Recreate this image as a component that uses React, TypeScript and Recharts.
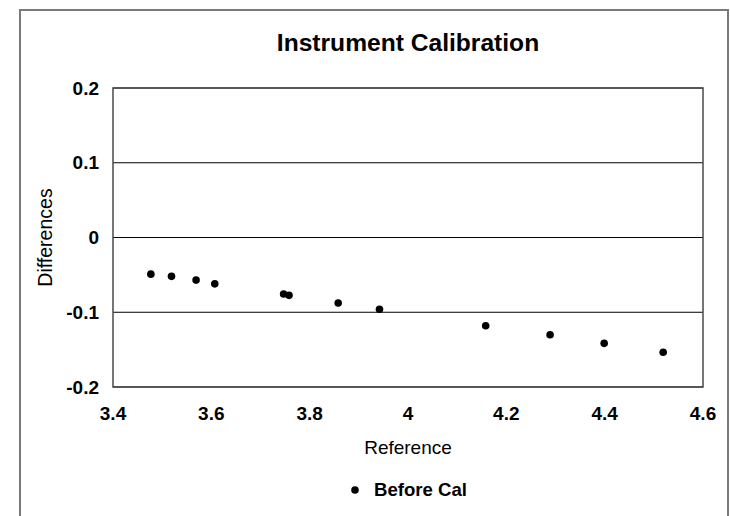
import React from "react";
import {
  ScatterChart,
  Scatter,
  XAxis,
  YAxis,
  CartesianGrid,
  ReferenceArea,
  Legend,
} from "recharts";

const referenceValues = [3.477, 3.519, 3.569, 3.607, 3.747, 3.758, 3.858, 3.942, 4.158, 4.289, 4.399, 4.519];
const differenceValues = [-0.049, -0.052, -0.057, -0.062, -0.0756, -0.0774, -0.0876, -0.096, -0.118, -0.13, -0.1416, -0.1536];
const xTicks = [3.4, 3.6, 3.8, 4, 4.2, 4.4, 4.6];
const yTicks = [-0.2, -0.1, 0, 0.1, 0.2];
const seriesName = "Before Cal";
const titleText = "Instrument Calibration";
const xLabel = "Reference";
const yLabel = "Differences";

const data = referenceValues.map((x, i) => ({ x, y: differenceValues[i] }));

const FONT = '"Liberation Sans", Arial, sans-serif';

const Dot = (props: any) => {
  const { cx, cy } = props;
  return <circle cx={cx} cy={cy} r={3.8} fill="#000" />;
};

const LegendContent = () => (
  <div style={{ display: "flex", alignItems: "center", paddingLeft: 351, fontFamily: FONT }}>
    <svg width={8} height={8} style={{ display: "block" }}>
      <circle cx={4} cy={4} r={3.8} fill="#000" />
    </svg>
    <span style={{ marginLeft: 15, fontSize: 18.6, fontWeight: "bold", color: "#000", lineHeight: "20px" }}>
      {seriesName}
    </span>
  </div>
);

export default function App() {
  return (
    <div
      style={{
        position: "absolute",
        left: 0,
        top: 0,
        width: 730,
        height: 516,
        overflow: "hidden",
        background: "#fff",
        fontFamily: FONT,
      }}
    >
      <div
        style={{
          position: "absolute",
          left: 19,
          top: 9,
          width: 710,
          height: 507,
          boxSizing: "border-box",
          borderLeft: "2px solid #7a7a7a",
          borderTop: "2px solid #7a7a7a",
          borderRight: "2px solid #7a7a7a",
        }}
      />
      <div
        style={{
          position: "absolute",
          left: 208,
          top: 30,
          width: 400,
          textAlign: "center",
          fontSize: 24.6,
          lineHeight: "25px",
          fontWeight: "bold",
          color: "#000",
        }}
      >
        {titleText}
      </div>
      <div style={{ position: "absolute", left: 0, top: 0 }}>
        <ScatterChart
          width={730}
          height={516}
          margin={{ top: 88, right: 27, bottom: 89, left: 0 }}
        >
          <CartesianGrid vertical={false} stroke="#000" strokeWidth={1} />
          <XAxis
            type="number"
            dataKey="x"
            domain={[3.4, 4.6]}
            ticks={xTicks}
            axisLine={false}
            tickLine={false}
            tickSize={0}
            tickMargin={20}
            height={40}
            interval={0}
            tick={{ fill: "#000", fontSize: 19, fontWeight: "bold", fontFamily: FONT }}
            label={{
              value: xLabel,
              position: "bottom",
              offset: 14,
              fill: "#000",
              fontSize: 19,
              fontFamily: FONT,
            }}
          />
          <YAxis
            type="number"
            dataKey="y"
            domain={[-0.2, 0.2]}
            ticks={yTicks}
            axisLine={false}
            tickLine={false}
            tickSize={0}
            tickMargin={14}
            width={113}
            interval={0}
            tick={{ fill: "#000", fontSize: 19, fontWeight: "bold", fontFamily: FONT }}
            label={{
              value: yLabel,
              angle: -90,
              position: "center",
              dx: -11,
              fill: "#000",
              fontSize: 19.5,
              fontFamily: FONT,
            }}
          />
          <ReferenceArea
            x1={3.4}
            x2={4.6}
            y1={-0.2}
            y2={0.2}
            fill="none"
            fillOpacity={0}
            stroke="#4a4a4a"
            strokeWidth={1.5}
            ifOverflow="visible"
          />
          <Legend
            verticalAlign="middle"
            align="center"
            content={<LegendContent />}
            wrapperStyle={{ left: 0, top: 480, width: 730 }}
          />
          <Scatter
            name={seriesName}
            data={data}
            fill="#000"
            shape={<Dot />}
            isAnimationActive={false}
          />
        </ScatterChart>
      </div>
    </div>
  );
}
